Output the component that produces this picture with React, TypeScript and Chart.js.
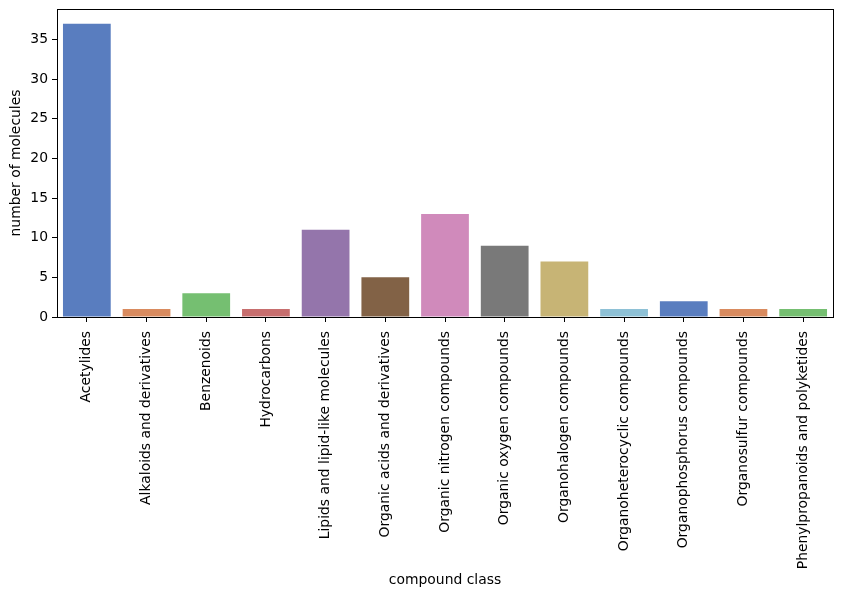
import React, { useEffect, useRef } from "react";
import { Chart, registerables } from "chart.js";

Chart.register(...registerables);

const categories = [
  "Acetylides",
  "Alkaloids and derivatives",
  "Benzenoids",
  "Hydrocarbons",
  "Lipids and lipid-like molecules",
  "Organic acids and derivatives",
  "Organic nitrogen compounds",
  "Organic oxygen compounds",
  "Organohalogen compounds",
  "Organoheterocyclic compounds",
  "Organophosphorus compounds",
  "Organosulfur compounds",
  "Phenylpropanoids and polyketides",
];
const counts = [37, 1, 3, 1, 11, 5, 13, 9, 7, 1, 2, 1, 1];
const yTicks = [0, 5, 10, 15, 20, 25, 30, 35];

const mutedPalette = [
  "#4878d0", "#ee854a", "#6acc64", "#d65f5f", "#956cb4",
  "#8c613c", "#dc7ec0", "#797979", "#d5bb67", "#82c6e2",
];

function desaturate(hex: string, prop: number): string {
  const r = parseInt(hex.slice(1, 3), 16) / 255;
  const g = parseInt(hex.slice(3, 5), 16) / 255;
  const b = parseInt(hex.slice(5, 7), 16) / 255;
  const max = Math.max(r, g, b), min = Math.min(r, g, b);
  const l = (max + min) / 2;
  let h = 0, s = 0;
  const d = max - min;
  if (d > 0) {
    s = l > 0.5 ? d / (2 - max - min) : d / (max + min);
    if (max === r) h = ((g - b) / d) % 6;
    else if (max === g) h = (b - r) / d + 2;
    else h = (r - g) / d + 4;
    h /= 6;
    if (h < 0) h += 1;
  }
  s *= prop;
  const q = l < 0.5 ? l * (1 + s) : l + s - l * s;
  const p = 2 * l - q;
  const hue2rgb = (t: number) => {
    if (t < 0) t += 1;
    if (t > 1) t -= 1;
    if (t < 1 / 6) return p + (q - p) * 6 * t;
    if (t < 1 / 2) return q;
    if (t < 2 / 3) return p + (q - p) * (2 / 3 - t) * 6;
    return p;
  };
  const to = (v: number) => Math.round(v * 255);
  return `rgb(${to(hue2rgb(h + 1 / 3))},${to(hue2rgb(h))},${to(hue2rgb(h - 1 / 3))})`;
}

const FONT = "'DejaVu Sans', sans-serif";
const FS = 13.9;

const frame = {
  id: "frame",
  afterDraw(chart: any) {
    const { ctx, chartArea } = chart;
    ctx.save();
    ctx.strokeStyle = "#000";
    ctx.lineWidth = 1;
    ctx.strokeRect(
      Math.round(chartArea.left) + 0.5,
      Math.round(chartArea.top) + 0.5,
      Math.round(chartArea.right - chartArea.left),
      Math.round(chartArea.bottom - chartArea.top)
    );
    ctx.restore();
  },
};

export default function App() {
  const ref = useRef<HTMLCanvasElement>(null);
  useEffect(() => {
    document.body.style.margin = "0";
    const colors = categories.map((_, i) => desaturate(mutedPalette[i % mutedPalette.length], 0.75));
    const chart = new Chart(ref.current!, {
      type: "bar",
      data: {
        labels: categories,
        datasets: [
          {
            data: counts,
            backgroundColor: colors,
            borderWidth: 0,
            inflateAmount: 0,
            categoryPercentage: 1,
            barPercentage: 0.8,
          },
        ],
      },
      options: {
        animation: false,
        responsive: false,
        layout: { padding: { top: 9, right: 8, left: 6, bottom: 0 } },
        plugins: { legend: { display: false }, tooltip: { enabled: false } },
        scales: {
          x: {
            grid: { offset: false, drawOnChartArea: false, drawTicks: true, tickLength: 5, color: "#000" },
            border: { display: false },
            ticks: {
              color: "#000",
              font: { family: FONT, size: FS },
              minRotation: 90,
              maxRotation: 90,
              autoSkip: false,
              padding: 9,
            },
            title: {
              display: true,
              text: "compound class",
              color: "#000",
              font: { family: FONT, size: FS },
              padding: { top: 4, bottom: 6 },
            },
            afterFit(scale: any) {
              scale.height = 595 - 317;
              scale.paddingLeft = 0;
              scale.paddingRight = 0;
            },
          },
          y: {
            min: 0,
            max: 38.85,
            afterBuildTicks(scale: any) {
              scale.ticks = yTicks.map((v) => ({ value: v }));
            },
            grid: { drawOnChartArea: false, drawTicks: true, tickLength: 5, color: "#000" },
            border: { display: false },
            ticks: {
              color: "#000",
              font: { family: FONT, size: FS },
              padding: 4,
            },
            title: {
              display: true,
              text: "number of molecules",
              color: "#000",
              font: { family: FONT, size: FS },
              padding: { top: 2, bottom: 2 },
            },
            afterFit(scale: any) {
              scale.width = 51;
              scale.paddingTop = 0;
              scale.paddingBottom = 0;
            },
          },
        },
      },
      plugins: [frame],
    });
    return () => chart.destroy();
  }, []);
  return <canvas ref={ref} width={841} height={595} style={{ display: "block" }} />;
}
